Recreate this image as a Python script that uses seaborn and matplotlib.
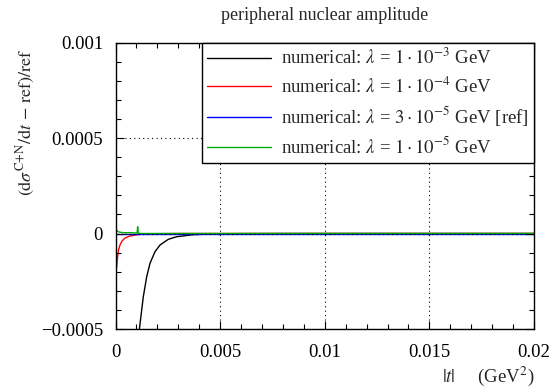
import numpy as np
import pandas as pd
import matplotlib
matplotlib.use("Agg")
import matplotlib.pyplot as plt
import seaborn as sns
from matplotlib.ticker import FixedLocator, MultipleLocator

# ---------------- data ----------------
series_labels = [
    r"numerical: $\lambda$ = $1\cdot10^{-3}$ GeV",
    r"numerical: $\lambda$ = $1\cdot10^{-4}$ GeV",
    r"numerical: $\lambda$ = $3\cdot10^{-5}$ GeV [ref]",
    r"numerical: $\lambda$ = $1\cdot10^{-5}$ GeV",
]
series_colors = ["#000000", "#ff0000", "#0000ff", "#00aa00"]

t_l1e3 = [0.00100, 0.001137, 0.001329, 0.001491, 0.001649, 0.001888, 0.002127,
          0.002523, 0.002925, 0.003704, 0.004516, 0.0060, 0.0080, 0.0120, 0.0200]
v_l1e3 = [-0.00070, -0.000505, -0.000331, -0.000226, -0.000156, -0.0000953, -0.0000602,
          -0.0000304, -0.0000168, -0.0000063, -0.0000026, -0.0000008, -0.0000002, 0.0, 0.0]

t_l1e4 = [0.00005, 0.0000956, 0.000143, 0.000215, 0.000311, 0.000454, 0.000645,
          0.000932, 0.001266, 0.00189, 0.0030, 0.0200]
v_l1e4 = [-0.00018, -0.000128, -0.0000864, -0.0000602, -0.0000393, -0.0000236, -0.0000147,
          -0.0000079, -0.0000037, -0.000001, 0.0, 0.0]

t_l3e5 = [0.00005, 0.0200]
v_l3e5 = [0.0, 0.0]

t_l1e5 = [0.00005, 0.00012, 0.00030, 0.00050, 0.00070, 0.00090, 0.00103,
          0.00106, 0.00109, 0.00125, 0.0020, 0.0200]
v_l1e5 = [0.0000183, 0.0000094, 0.0000050, 0.0000040, 0.0000045, 0.0000030, 0.0000020,
          0.0000356, 0.0000015, 0.0, 0.0, 0.0]

x_tick_vals = [0, 0.005, 0.01, 0.015, 0.02]
x_tick_labels = ["0", "0.005", "0.01", "0.015", "0.02"]
y_tick_vals = [-0.0005, 0, 0.0005, 0.001]
y_tick_labels = ["\u22120.0005", "0", "0.0005", "0.001"]

title_text = "peripheral nuclear amplitude"
x_label = r"$|t|$ $\quad$ (GeV$^{2}$)"
y_label = r"$(\mathrm{d}\sigma^{\mathrm{C\!+\!N}}/\mathrm{d}t\,-\,\mathrm{ref})/\mathrm{ref}$"

# ---------------- build table ----------------
frames = []
for lab, tt, vv in zip(series_labels,
                       [t_l1e3, t_l1e4, t_l3e5, t_l1e5],
                       [v_l1e3, v_l1e4, v_l3e5, v_l1e5]):
    frames.append(pd.DataFrame({"t": tt, "v": vv, "series": lab}))
df = pd.concat(frames, ignore_index=True)

# ---------------- style ----------------
sns.set_style("white")
plt.rcParams["font.family"] = ["Liberation Serif", "DejaVu Serif"]
plt.rcParams["mathtext.fontset"] = "stix"
plt.rcParams["axes.unicode_minus"] = True

fig = plt.figure(figsize=(5.53, 3.91), dpi=100)
ax = fig.add_axes([115.5 / 553, 1 - 329 / 391, (534 - 115.5) / 553, (329 - 42.5) / 391])

sns.lineplot(data=df, x="t", y="v", hue="series", hue_order=series_labels,
             palette=series_colors, linewidth=1.0, estimator=None, sort=False,
             ax=ax, legend=True)

ax.set_xlim(0, 0.02)
ax.set_ylim(-0.0005, 0.001)

ax.xaxis.set_major_locator(FixedLocator(x_tick_vals))
ax.set_xticklabels(x_tick_labels)
ax.xaxis.set_minor_locator(MultipleLocator(0.001))
ax.yaxis.set_major_locator(FixedLocator(y_tick_vals))
ax.set_yticklabels(y_tick_labels)
ax.yaxis.set_minor_locator(MultipleLocator(0.0001))

ax.tick_params(which="both", direction="in", top=True, right=True, bottom=True, left=True,
               labelsize=13.5, width=0.8, colors="black")
ax.tick_params(which="major", length=6)
ax.tick_params(which="minor", length=3.5)
ax.tick_params(axis="x", which="major", pad=11)
ax.tick_params(axis="y", which="major", pad=9)

for s in ax.spines.values():
    s.set_color("black")
    s.set_linewidth(1.0)

ax.grid(True, which="major", linestyle=(0, (1, 3)), color="black", linewidth=0.8)
ax.set_axisbelow(False)

ax.set_title(title_text, fontsize=13, pad=16)
ax.set_xlabel(x_label, fontsize=13.5)
ax.xaxis.set_label_coords(1.0, -0.165)
ax.xaxis.label.set_horizontalalignment("right")
ax.xaxis.label.set_verticalalignment("center")
ax.set_ylabel(y_label, fontsize=13)
ax.yaxis.set_label_coords(-0.215, 0.98)
ax.yaxis.label.set_verticalalignment("center")
ax.yaxis.label.set_horizontalalignment("right")

leg = ax.legend(loc="upper right", bbox_to_anchor=(1.0, 1.0), borderaxespad=0.0,
                fontsize=13.5, frameon=True, fancybox=False, framealpha=1.0,
                edgecolor="black", handlelength=3.4, labelspacing=0.42,
                borderpad=0.3, handletextpad=0.5)
leg.get_frame().set_linewidth(1.0)
leg.set_zorder(5)

fig.savefig("out.png", dpi=100)
